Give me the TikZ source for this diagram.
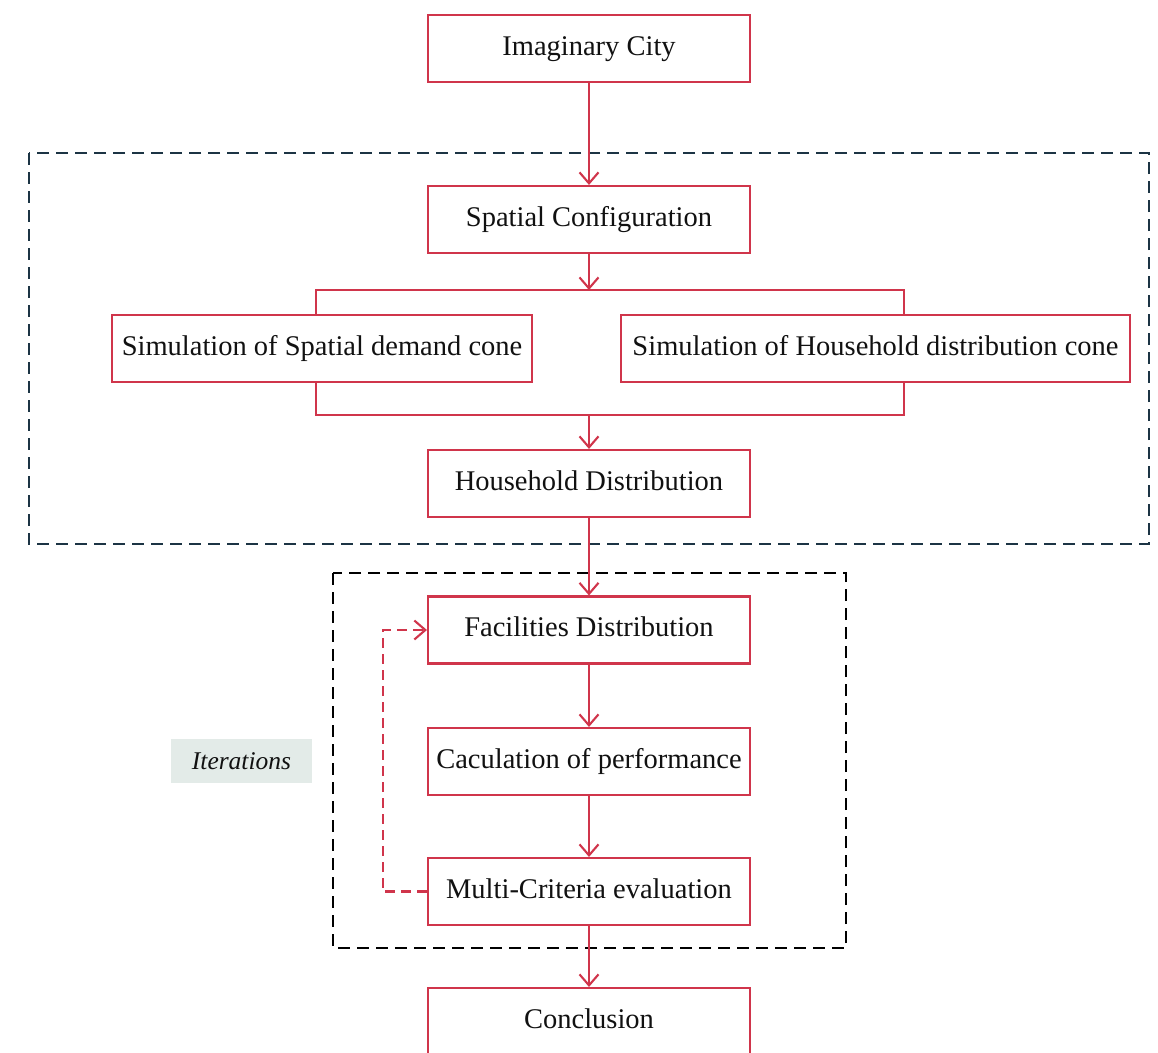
\documentclass[tikz,border=0pt]{standalone}
\usepackage{fontspec}
\setmainfont{Liberation Serif}
\usetikzlibrary{arrows.meta}
\definecolor{cred}{HTML}{D0354B}
\definecolor{cslate}{HTML}{1C3444}
\definecolor{cgrey}{HTML}{E3EBE8}
\definecolor{ctext}{HTML}{111111}
\begin{document}
\begin{tikzpicture}[x=1pt,y=-1pt,
  box/.style={draw=cred, line width=2.1pt, fill=white, text=ctext,
    font=\fontsize{28.5}{32}\selectfont, inner sep=0pt, minimum height=67pt,
    text height=19pt, text depth=6pt},
  link/.style={draw=cred, line width=2.1pt},
  conn/.style={link, -{Straight Barb[length=11pt,width=19pt,line width=2.1pt]}},
  fb/.style={conn, dash pattern=on 10pt off 6pt},
  grp/.style={line width=2.4pt, dash pattern=on 12pt off 7pt}
]
\useasboundingbox (0,0) rectangle (1158,1052);

% group frames
\draw[grp, draw=cslate] (29,153) rectangle (1149,544);
\draw[grp, draw=black] (333,573) rectangle (846,948);

% boxes
\node[box, minimum width=322pt] (city) at (589,48.5) {Imaginary City};
\node[box, minimum width=322pt] (spat) at (589,219.5) {Spatial Configuration};
\node[box, minimum width=420pt] (sdem) at (322,348.5) {Simulation of Spatial demand cone};
\node[box, minimum width=509pt] (shh) at (875.5,348.5) {Simulation of Household distribution cone};
\node[box, minimum width=322pt] (hh) at (589,483.5) {Household Distribution};
\node[box, minimum width=322pt] (fac) at (589,630) {Facilities Distribution};
\node[box, minimum width=322pt] (calc) at (589,761.5) {Caculation of performance};
\node[box, minimum width=322pt] (mce) at (589,891.5) {Multi-Criteria evaluation};
\node[box, minimum width=322pt] (conc) at (589,1021.5) {Conclusion};

\node[fill=cgrey, minimum width=141pt, minimum height=44pt, inner sep=0pt,
  text=ctext, font=\fontsize{25.5}{30}\selectfont\itshape] (iter) at (241.5,761) {Iterations};

% branch coordinates
\coordinate (bt) at (589,290);
\coordinate (lt) at (316,290);
\coordinate (rt) at (904,290);
\coordinate (bb) at (589,415);
\coordinate (lb) at (316,415);
\coordinate (rb) at (904,415);

% connectors
\draw[conn] (city.south) -- (spat.north);
\draw[conn] (spat.south) -- (bt);
\draw[link] (lt |- sdem.north) -- (lt) -- (rt) -- (rt |- shh.north);
\draw[link] (lb |- sdem.south) -- (lb) -- (rb) -- (rb |- shh.south);
\draw[conn] (bb) -- (hh.north);
\draw[conn] (hh.south) -- (fac.north);
\draw[conn] (fac.south) -- (calc.north);
\draw[conn] (calc.south) -- (mce.north);
\draw[conn] (mce.south) -- (conc.north);
\draw[fb] (mce.west) -- ++(-44,0) |- (fac.west);
\end{tikzpicture}
\end{document}
